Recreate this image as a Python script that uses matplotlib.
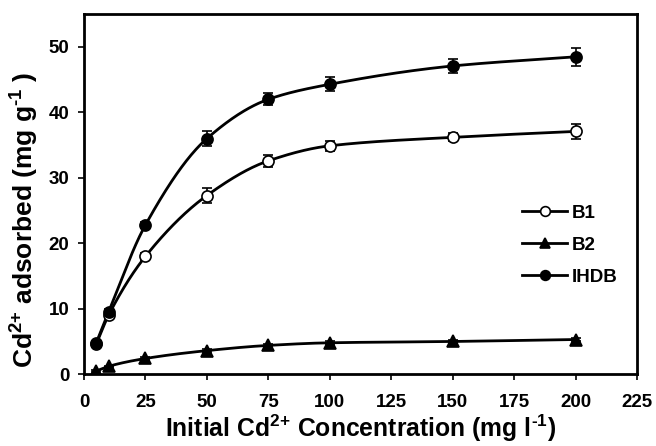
import numpy as np
import matplotlib
matplotlib.use('Agg')
import matplotlib.pyplot as plt

plt.rcParams['font.family'] = 'Liberation Sans'
plt.rcParams['font.weight'] = 'bold'
plt.rcParams['mathtext.fontset'] = 'custom'
plt.rcParams['mathtext.rm'] = 'Liberation Sans:bold'
plt.rcParams['mathtext.bf'] = 'Liberation Sans:bold'
plt.rcParams['mathtext.it'] = 'Liberation Sans:bold'

conc = [5, 10, 25, 50, 75, 100, 150, 200]

b1 = [4.6, 9.0, 18.0, 27.3, 32.6, 34.9, 36.2, 37.1]
b1_err = [0.3, 0.4, 0.5, 1.2, 0.9, 0.8, 0.6, 1.1]

b2 = [0.5, 1.2, 2.4, 3.6, 4.4, 4.8, 5.0, 5.3]
b2_err = [0.1, 0.1, 0.2, 0.2, 0.2, 0.2, 0.2, 0.3]

ihdb = [4.8, 9.5, 22.8, 36.0, 42.0, 44.3, 47.1, 48.5]
ihdb_err = [0.3, 0.4, 0.4, 1.1, 0.9, 1.1, 1.0, 1.4]


def pchip(x, y, xs):
    # monotone cubic for the smooth connecting curve
    x = np.asarray(x, float)
    y = np.asarray(y, float)
    h = np.diff(x)
    d = np.diff(y) / h
    m = np.zeros_like(y)
    for k in range(1, len(x) - 1):
        if d[k - 1] * d[k] > 0:
            w1 = 2 * h[k] + h[k - 1]
            w2 = h[k] + 2 * h[k - 1]
            m[k] = (w1 + w2) / (w1 / d[k - 1] + w2 / d[k])
    m[0] = d[0]
    m[-1] = d[-1]
    idx = np.clip(np.searchsorted(x, xs) - 1, 0, len(x) - 2)
    t = (xs - x[idx]) / h[idx]
    h00 = 2 * t**3 - 3 * t**2 + 1
    h10 = t**3 - 2 * t**2 + t
    h01 = -2 * t**3 + 3 * t**2
    h11 = t**3 - t**2
    return h00 * y[idx] + h10 * h[idx] * m[idx] + h01 * y[idx + 1] + h11 * h[idx] * m[idx + 1]


fig = plt.figure(figsize=(6.56, 4.46), dpi=100)
ax = fig.add_axes([0.128, 0.161, 0.843, 0.807])

xs = np.linspace(conc[0], conc[-1], 400)
series = [
    (b1, b1_err, 'o', 'white', 'B1'),
    (b2, b2_err, '^', 'black', 'B2'),
    (ihdb, ihdb_err, 'o', 'black', 'IHDB'),
]
handles = []
for vals, err, mk, fc, lab in series:
    ax.plot(xs, pchip(conc, vals, xs), color='black', lw=2, zorder=2)
    ax.errorbar(conc, vals, yerr=err, fmt='none', ecolor='black',
                elinewidth=1.2, capsize=3.5, capthick=1.2, zorder=3)
    ax.plot(conc, vals, ls='none', marker=mk, markersize=8,
            markerfacecolor=fc, markeredgecolor='black', markeredgewidth=1.2, zorder=4)
    h, = ax.plot([], [], color='black', lw=2, marker=mk, markersize=7,
                 markerfacecolor=fc, markeredgecolor='black', markeredgewidth=1.2, label=lab)
    handles.append(h)

ax.set_xlim(0, 225)
ax.set_ylim(0, 55)
ax.set_xticks(np.arange(0, 226, 25))
ax.set_yticks(np.arange(0, 51, 10))
ax.tick_params(direction='out', length=4.5, width=1.2, labelsize=13.5)
ax.tick_params(axis='x', pad=10)
ax.tick_params(axis='y', pad=6)
for lbl in ax.get_xticklabels() + ax.get_yticklabels():
    lbl.set_fontweight('bold')
for s in ax.spines.values():
    s.set_linewidth(2)

ax.set_xlabel('Initial Cd$^{2{+}}$ Concentration (mg l$^{\\text{-}1}$)', fontsize=17.8, fontweight='bold', labelpad=1)
ax.set_ylabel('Cd$^{2{+}}$ adsorbed (mg g$^{\\text{-}1}$ )', fontsize=19, fontweight='bold')
ax.yaxis.set_label_coords(-0.078, 0.43)

ax.legend(handles=handles, loc='center left', bbox_to_anchor=(0.762, 0.358),
          frameon=False, handlelength=2.4, handletextpad=0.25,
          labelspacing=0.8, prop={'weight': 'bold', 'size': 13.5})

fig.savefig('out.png', dpi=100)
